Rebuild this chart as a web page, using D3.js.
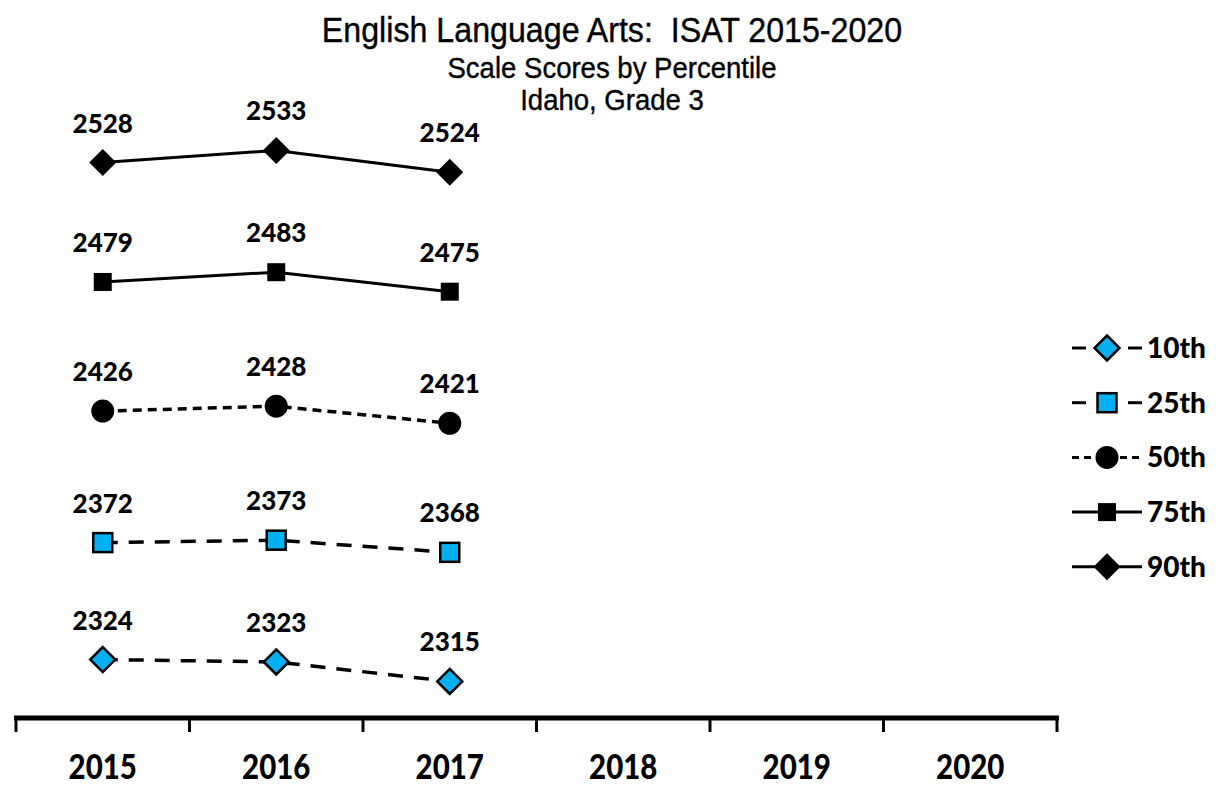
<!DOCTYPE html>
<html>
<head>
    <title>ISAT ELA Grade 3</title>
    <script src="https://cdnjs.cloudflare.com/ajax/libs/d3/7.8.5/d3.min.js"></script>
    <style>
        body { margin: 0; background: #fff; }
        .title { font-family: "Liberation Sans", Arial, sans-serif; fill: #000; stroke: #000; stroke-width: 0.4px; }
        .lbl { font-family: Lato, "Open Sans", sans-serif; font-weight: 900; fill: #000; }
    </style>
</head>
<body>
<div id="chart"></div>
<script>
const years = ['2015', '2016', '2017', '2018', '2019', '2020'];
const p10 = [2324, 2323, 2315];
const p25 = [2372, 2373, 2368];
const p50 = [2426, 2428, 2421];
const p75 = [2479, 2483, 2475];
const p90 = [2528, 2533, 2524];
const seriesNames = ['10th', '25th', '50th', '75th', '90th'];

const W = 1225, H = 794;
const svg = d3.select('#chart').append('svg').attr('width', W).attr('height', H);

const x = d3.scaleBand().domain(years).range([16, 1057]);
const y = d3.scaleLinear().domain([2300, 2550]).range([718, 109]);

const styles = {
    '10th': { vals: p10, dash: '15,11', shape: 'diamond', fill: '#00b0f0' },
    '25th': { vals: p25, dash: '15,11', shape: 'square', fill: '#00b0f0' },
    '50th': { vals: p50, dash: '9,6', shape: 'circle', fill: '#000' },
    '75th': { vals: p75, dash: null, shape: 'square', fill: '#000' },
    '90th': { vals: p90, dash: null, shape: 'diamond', fill: '#000' }
};

function marker(g, s, cx, cy) {
    if (s.shape === 'diamond') {
        const r = s.fill === '#000' ? 13.5 : 12.5;
        g.append('path')
            .attr('d', `M${cx},${cy - r}L${cx + r},${cy}L${cx},${cy + r}L${cx - r},${cy}Z`)
            .attr('fill', s.fill).attr('stroke', '#000').attr('stroke-width', s.fill === '#000' ? 0 : 2.5);
    } else if (s.shape === 'square') {
        const r = s.fill === '#000' ? 9 : 9.5;
        g.append('rect').attr('x', cx - r).attr('y', cy - r).attr('width', 2 * r).attr('height', 2 * r)
            .attr('fill', s.fill).attr('stroke', '#000').attr('stroke-width', s.fill === '#000' ? 0 : 2.5);
    } else {
        g.append('circle').attr('cx', cx).attr('cy', cy).attr('r', 11.5).attr('fill', '#000');
    }
}

// titles (slightly squeezed to get the narrow look)
const titles = [
    { t: 'English Language Arts:  ISAT 2015-2020', y: 42, size: 35, sx: 0.92 },
    { t: 'Scale Scores by Percentile', y: 78, size: 29, sx: 0.95 },
    { t: 'Idaho, Grade 3', y: 110, size: 29, sx: 0.95 }
];
titles.forEach(d => {
    svg.append('text').attr('class', 'title')
        .attr('transform', `translate(612,${d.y}) scale(${d.sx},1)`)
        .attr('text-anchor', 'middle').attr('font-size', d.size)
        .style('white-space', 'pre').text(d.t);
});

// series
const line = d3.line().x((d, i) => x(years[i]) + x.bandwidth() / 2).y(d => y(d));
seriesNames.forEach(name => {
    const s = styles[name];
    const g = svg.append('g');
    g.append('path').datum(s.vals).attr('d', line).attr('fill', 'none')
        .attr('stroke', '#000').attr('stroke-width', s.dash ? 3.5 : 3)
        .attr('stroke-dasharray', s.dash);
    s.vals.forEach((v, i) => {
        const cx = x(years[i]) + x.bandwidth() / 2, cy = y(v);
        marker(g, s, cx, cy);
        g.append('text').attr('class', 'lbl').attr('x', cx).attr('y', cy - 30)
            .attr('text-anchor', 'middle').attr('font-size', 26).text(v);
    });
});

// x axis
const axis = svg.append('g');
axis.append('line').attr('x1', 14).attr('x2', 1059).attr('y1', 718).attr('y2', 718)
    .attr('stroke', '#000').attr('stroke-width', 5);
const edges = years.map(d => x(d)).concat([x.range()[1]]);
axis.selectAll('.tk').data(edges).join('line')
    .attr('x1', d => d).attr('x2', d => d).attr('y1', 718).attr('y2', 732)
    .attr('stroke', '#000').attr('stroke-width', 3);
axis.selectAll('.yr').data(years).join('text').attr('class', 'lbl')
    .attr('transform', d => `translate(${x(d) + x.bandwidth() / 2},779) scale(0.92,1.08)`)
    .attr('text-anchor', 'middle').attr('font-size', 32).text(d => d);

// legend
const leg = svg.append('g');
seriesNames.forEach((name, i) => {
    const s = styles[name];
    const ly = 348 + i * 54.7;
    const g = leg.append('g');
    if (s.dash === '15,11') {
        g.append('line').attr('x1', 1072).attr('x2', 1086).attr('y1', ly).attr('y2', ly).attr('stroke', '#000').attr('stroke-width', 3);
        g.append('line').attr('x1', 1128).attr('x2', 1142).attr('y1', ly).attr('y2', ly).attr('stroke', '#000').attr('stroke-width', 3);
    } else {
        g.append('line').attr('x1', 1072).attr('x2', 1142).attr('y1', ly).attr('y2', ly)
            .attr('stroke', '#000').attr('stroke-width', 3).attr('stroke-dasharray', s.dash ? '7,5' : null);
    }
    marker(g, s, 1107, ly);
    g.append('text').attr('class', 'lbl').attr('x', 1147).attr('y', ly + 10)
        .attr('font-size', 28).text(name);
});
</script>
</body>
</html>
